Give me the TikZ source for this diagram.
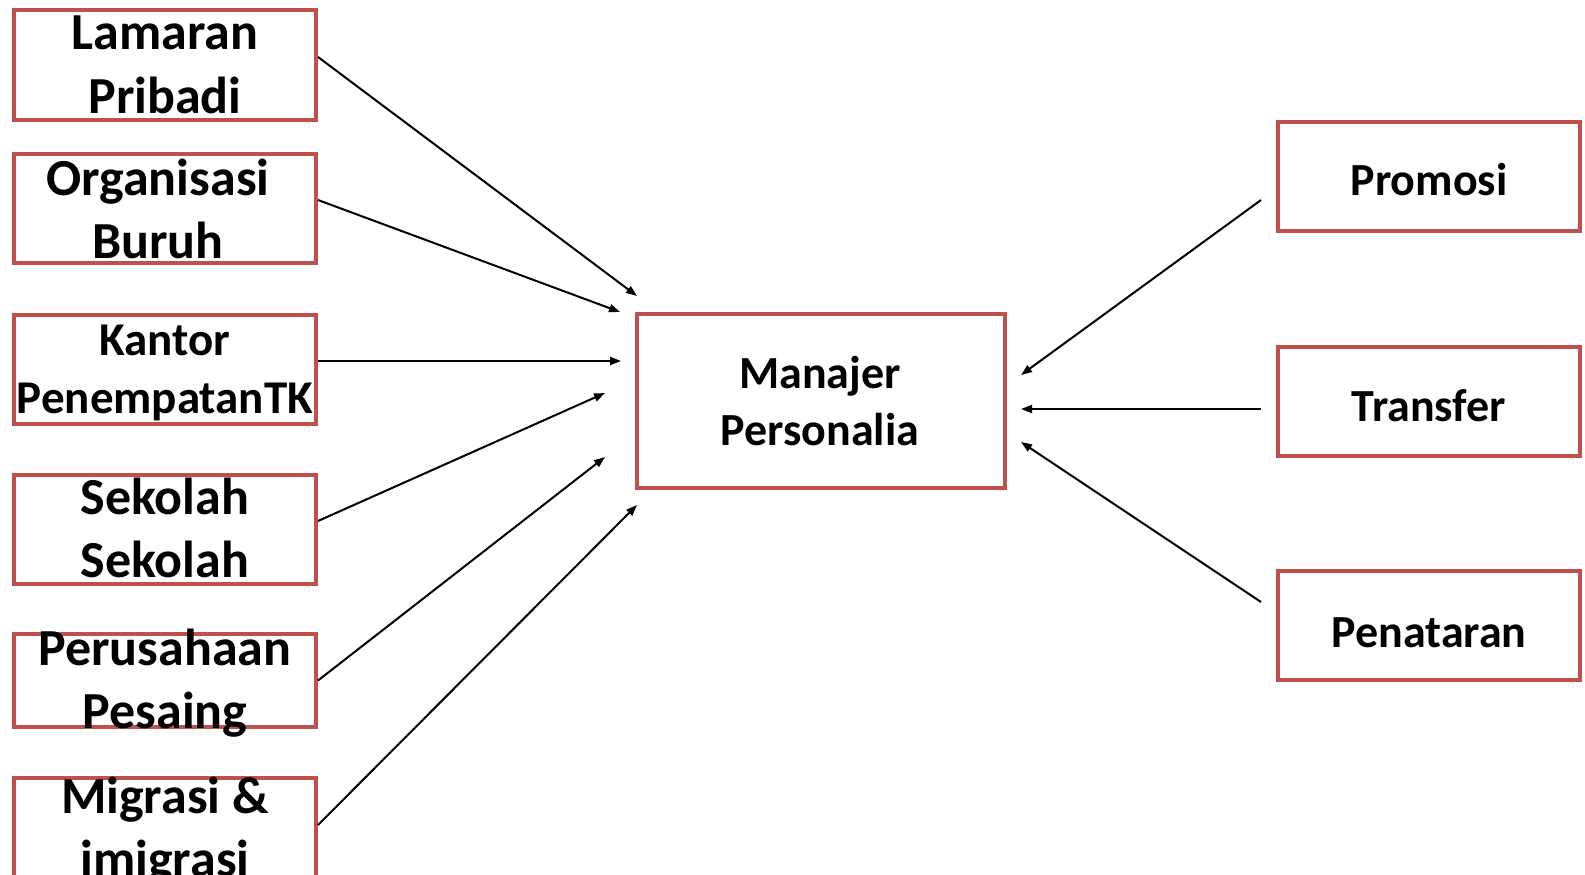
\documentclass[tikz,border=0pt]{standalone}
\usepackage{fontspec}
\setmainfont{Carlito}
\usetikzlibrary{arrows.meta}
\definecolor{boxred}{RGB}{192,80,77}
\begin{document}
\begin{tikzpicture}[x=1pt,y=-1pt,
  box/.style={draw=boxred, line width=4pt, inner sep=0pt, minimum width=302pt, fill=white},
  bigtxt/.style={align=center, anchor=base, inner sep=0pt, font=\bfseries\fontsize{52}{63}\selectfont},
  midtxt/.style={align=center, anchor=base, inner sep=0pt, font=\bfseries\fontsize{47}{58}\selectfont},
  ctrtxt/.style={align=center, anchor=base, inner sep=0pt, font=\bfseries\fontsize{46}{57}\selectfont},
  arr/.style={line width=2pt, -{Triangle[length=11pt,width=8pt]}}]
\useasboundingbox[fill=white] (0,0) rectangle (1585,875);
% left boxes
\node[box, minimum height=110pt] (b1) at (165,65) {};
\node[box, minimum height=109pt] (b2) at (165,208.5) {};
\node[box, minimum height=109pt] (b3) at (165,369.5) {};
\node[box, minimum height=109pt] (b4) at (165,529.5) {};
\node[box, minimum height=93pt] (b5) at (165,680.5) {};
\node[box, minimum height=109pt] (b6) at (165,832.5) {};
% centre box
\node[box, minimum width=368pt, minimum height=174pt] (bm) at (821,401) {};
% right boxes
\node[box, minimum height=109pt] (r1) at (1429,176.5) {};
\node[box, minimum height=109pt] (r2) at (1429,401.5) {};
\node[box, minimum height=109pt] (r3) at (1429,625.5) {};
% texts (base anchor = last line baseline)
\node[bigtxt] (t1) at (165,113) {Lamaran\\Pribadi};
\node[bigtxt] (t2) at (158,258) {Organisasi\\Buruh};
\node[midtxt] (t3) at (165,413) {Kantor\\PenempatanTK};
\node[bigtxt] (t4) at (165,577) {Sekolah\\Sekolah};
\node[bigtxt] (t5) at (165,728) {Perusahaan\\Pesaing};
\node[bigtxt] (t6) at (165,876) {Migrasi \&\\imigrasi};
\node[ctrtxt] (tm) at (820,445) {Manajer\\Personalia};
\node[ctrtxt] (u1) at (1429,195) {Promosi};
\node[ctrtxt] (u2) at (1429,421) {Transfer};
\node[ctrtxt] (u3) at (1429,647) {Penataran};
% free ends
\coordinate (e1) at (637,296);
\coordinate (e2) at (620,312);
\coordinate (e3) at (621,361);
\coordinate (e4) at (605,393);
\coordinate (e5) at (605,457);
\coordinate (e6) at (637,505);
\coordinate (s7) at (1261,200);
\coordinate (s8) at (1261,409);
\coordinate (s9) at (1261,602);
\coordinate (f7) at (1021,375);
\coordinate (f8) at (1021,409);
\coordinate (f9) at (1021,442);
% connectors
\draw[arr] ([yshift=8pt]b1.east) -- (e1);
\draw[arr] ([yshift=8.5pt]b2.east) -- (e2);
\draw[arr] ([yshift=8.5pt]b3.east) -- (e3);
\draw[arr] ([yshift=8.5pt]b4.east) -- (e4);
\draw[arr] (b5.east) -- (e5);
\draw[arr] ([yshift=7.5pt]b6.east) -- (e6);
\draw[arr] (s7) -- (f7);
\draw[arr] (s8) -- (f8);
\draw[arr] (s9) -- (f9);
\end{tikzpicture}
\end{document}
